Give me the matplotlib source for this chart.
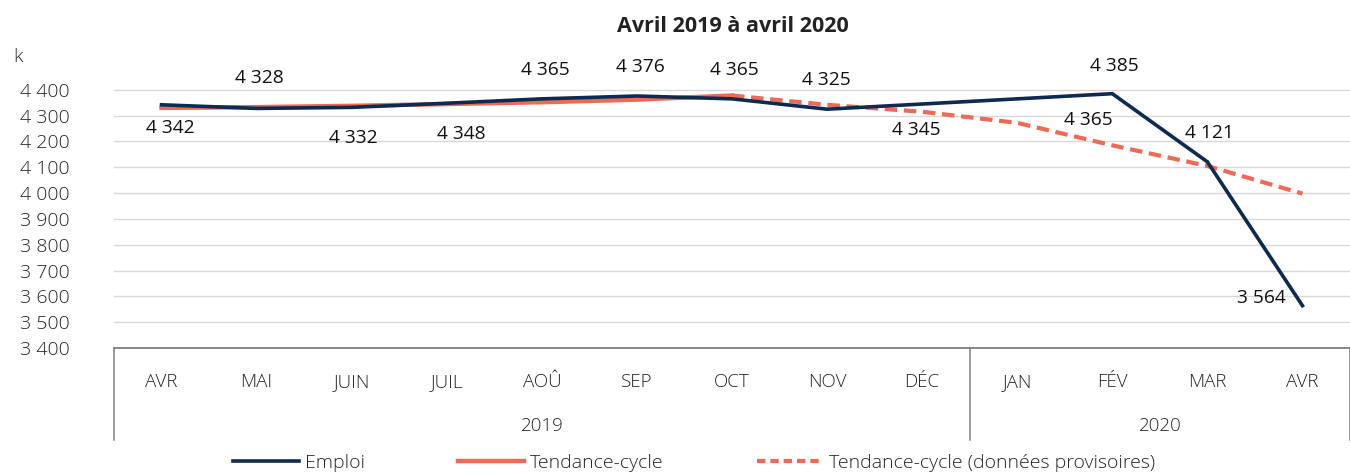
import matplotlib.pyplot as plt
from matplotlib.lines import Line2D

# data
months = ["AVR", "MAI", "JUIN", "JUIL", "AOÛ", "SEP", "OCT", "NOV", "DÉC",
          "JAN", "FÉV", "MAR", "AVR"]
years = ["2019", "2020"]
year_spans = [(0, 8), (9, 12)]

emploi = [4342, 4328, 4332, 4348, 4365, 4376, 4365, 4325, 4345,
          4365, 4385, 4121, 3564]
tendance = [4330, 4333, 4338, 4345, 4352, 4362, 4378]          # AVR..OCT 2019
tendance_prov = [4378, 4342, 4315, 4272, 4185, 4105, 3998]     # OCT 2019..AVR 2020

# label offsets in pixels (dx, dy) for the Emploi data labels
label_offsets = [(9, -23), (3, 30), (2, -31), (15, -31), (4, 29), (3, 29), (2, 29),
                 (-1, 29), (-6, -26), (71, -21), (2, 28), (2, 29), (-41, 8)]

navy = "#0d2a50"
salmon = "#ee6a55"
grey_txt = "#262626"

plt.rcParams['font.family'] = ['Open Sans', 'DejaVu Sans']

fig = plt.figure(figsize=(13.5, 4.75), dpi=100)
ax = fig.add_axes([114 / 1350, 1 - 348 / 475, 1 - 114 / 1350, (348 - 64) / 475])

x = list(range(len(months)))
ax.plot(x, emploi, color=navy, lw=2.6, zorder=4, solid_joinstyle='miter')
ax.plot(x[:len(tendance)], tendance, color=salmon, lw=3.2, zorder=3)
ax.plot(x[6:6 + len(tendance_prov)], tendance_prov, color=salmon, lw=3, ls=(0, (3, 1.6)), zorder=3)

for i, v in enumerate(emploi):
    txt = "{:,}".format(v).replace(",", " ")
    ax.annotate(txt, (i, v), xytext=label_offsets[i], textcoords='offset pixels',
                ha='center', va='center', fontsize=13.8, color='#111111', zorder=5)

ax.set_xlim(-0.5, len(months) - 0.5)
ax.set_ylim(3400, 4500)
ax.set_yticks(range(3400, 4401, 100))
ax.set_yticklabels(["{:,}".format(t).replace(",", " ") for t in range(3400, 4401, 100)],
                   fontsize=14, color=grey_txt, fontweight='light')
ax.tick_params(axis='y', length=0, pad=0)
for lab in ax.get_yticklabels():
    lab.set_ha('left')
    lab.set_x(-94 / 1236)
ax.set_xticks([])
ax.grid(axis='y', color='#d9d9d9', lw=1)
ax.set_axisbelow(True)
for s in ('top', 'right', 'left'):
    ax.spines[s].set_visible(False)
ax.spines['bottom'].set_color('#7f7f7f')
ax.spines['bottom'].set_linewidth(1.3)

# the "k" unit above the axis
fig.text(13 / 1350, 1 - 57 / 475, "k", fontsize=14, color=grey_txt, va='center',
         fontweight='light')

# category table under the axis
tr = ax.get_xaxis_transform()
for i, m in enumerate(months):
    ax.text(i, -0.138, m, transform=tr, ha='center', va='baseline', fontsize=13.5,
            color=grey_txt, fontweight='light', clip_on=False)
for yr, (a, b) in zip(years, year_spans):
    ax.text((a + b) / 2, -0.293, yr, transform=tr, ha='center', va='baseline',
            fontsize=13.5, color=grey_txt, fontweight='light', clip_on=False)
for xb in (-0.5, 8.5, len(months) - 0.5):
    ax.plot([xb, xb], [0, -0.324], transform=tr, color='#7f7f7f', lw=1.1, clip_on=False)

fig.text(733 / 1350, 1 - 26 / 475, "Avril 2019 à avril 2020", ha='center', va='center',
         fontsize=15.5, fontweight='bold', color='#222222')

handles = [Line2D([], [], color=navy, lw=2.6),
           Line2D([], [], color=salmon, lw=3.2),
           Line2D([], [], color=salmon, lw=3, ls=(0, (2, 1.2)))]
fig.legend(handles, ["Emploi", "Tendance-cycle", "Tendance-cycle (données provisoires)"],
           loc='center', bbox_to_anchor=(694 / 1350, 1 - 463 / 475), ncol=3, frameon=False,
           prop={'size': 14, 'weight': 'light'}, handlelength=3.4, handletextpad=0.3,
           columnspacing=4.8, labelcolor=grey_txt)

fig.savefig("out.png", dpi=100)
